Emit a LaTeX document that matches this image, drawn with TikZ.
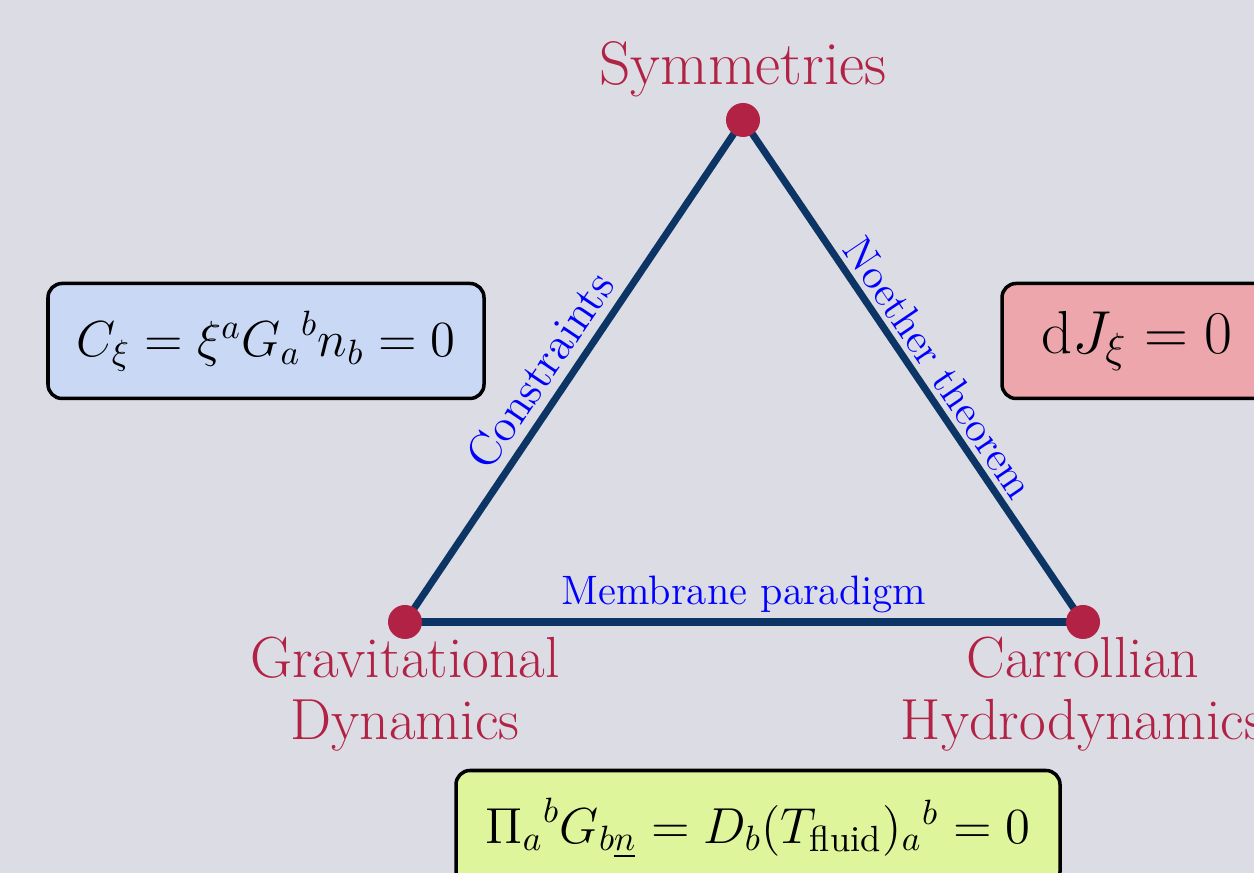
\documentclass[tikz,border=0pt]{standalone}
\usepackage{amsmath,amssymb,xcolor}
\definecolor{bgslate}{RGB}{219,220,228}
\definecolor{edgenavy}{RGB}{12,52,100}
\definecolor{vred}{RGB}{178,34,68}
\definecolor{boxblue}{RGB}{201,216,245}
\definecolor{boxpink}{RGB}{236,166,172}
\definecolor{boxlime}{RGB}{222,245,155}
\usetikzlibrary{arrows.meta,positioning,calc}

\begin{document}
\begin{tikzpicture}[
  edge/.style={draw=edgenavy,line width=2pt},
  vdot/.style={circle,fill=vred,inner sep=0pt,minimum size=0.34cm},
  vlabel/.style={text=vred,font=\fontsize{16.5}{17.6}\selectfont,align=center},
  elabel/.style={text=blue,font=\fontsize{12}{14}\selectfont,sloped,above},
  eqbox/.style={draw=black,line width=1pt,rounded corners=4pt,minimum height=1.15cm,
    align=center}
]
  \useasboundingbox (0,0) rectangle (12.54,8.73);
  \fill[bgslate] (0,0) rectangle (12.54,8.73);

  % vertices of the triangle
  \coordinate (sym) at (7.43,7.53);
  \coordinate (grav) at (4.05,2.51);
  \coordinate (carr) at (10.83,2.51);

  \draw[edge] (grav) -- node[elabel,pos=0.47,inner sep=2.5pt,
    font=\fontsize{13}{15}\selectfont] {Constraints} (sym);
  \draw[edge] (sym) -- node[elabel,pos=0.52,inner sep=1.5pt] {Noether theorem} (carr);
  \draw[edge] (grav) -- node[elabel,sloped=false,inner sep=1.5pt,
    font=\fontsize{11.7}{14}\selectfont] {Membrane paradigm} (carr);

  \node[vdot] (symdot) at (sym) {};
  \node[vdot] (gravdot) at (grav) {};
  \node[vdot] (carrdot) at (carr) {};

  \node[vlabel,font=\fontsize{17.5}{20}\selectfont] (symlabel) at (7.43,8.04) {Symmetries};
  \node[vlabel] (gravlabel) at (4.05,1.79) {Gravitational\\Dynamics};
  \node[vlabel] (carrlabel) at (10.83,1.79) {Carrollian\\Hydrodynamics};

  % equations
  \node[eqbox,fill=boxblue,minimum width=4.36cm,font=\fontsize{14.5}{17}\selectfont]
    (constr) at (2.66,5.32) {$C_{\xi}=\xi^a {G_a}^b n_b = 0$};
  \node[eqbox,fill=boxpink,minimum width=2.7cm,font=\fontsize{16.5}{19}\selectfont]
    (noether) at (11.37,5.32) {$\mathrm{d}J_{\xi} = 0$};
  \node[eqbox,fill=boxlime,minimum width=6.04cm,font=\fontsize{14.8}{17}\selectfont]
    (membr) at (7.58,0.45)
    {${\Pi_a}^b G_{b\underline{n}} = D_b (T_{\text{fluid}}){}_a{}^b = 0$};
\end{tikzpicture}
\end{document}
